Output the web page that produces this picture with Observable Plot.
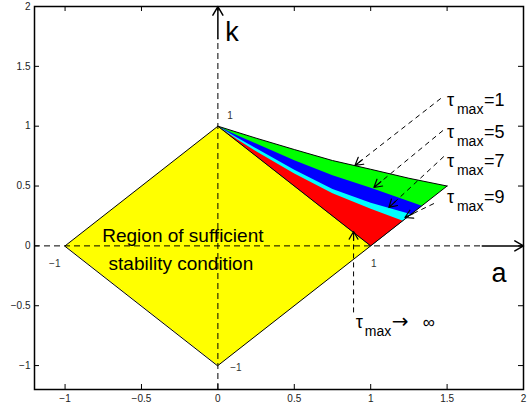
<!DOCTYPE html>
<html><head><meta charset="utf-8">
<script src="https://cdn.jsdelivr.net/npm/d3@7"></script>
<script src="https://cdn.jsdelivr.net/npm/@observablehq/plot@0.6"></script>
<style>body{margin:0;background:#fff} #chart svg{display:block}</style>
</head><body><div id="chart"></div>
<script>
// ---- data ----
const xTicks = [-1, -0.5, 0, 0.5, 1, 1.5, 2];
const yTicks = [-1, -0.5, 0, 0.5, 1, 1.5, 2];
const diamondA = [-1, 0, 1, 0];
const diamondK = [0, 1, 0, -1];
const tau1A = [0, 0.125, 0.25, 0.5, 0.75, 1.0, 1.25, 1.5];
const tau1K = [1, 0.95, 0.90, 0.805, 0.713, 0.64, 0.565, 0.5];
const tau5A = [0, 0.125, 0.25, 0.5, 0.75, 1.0, 1.2, 1.335];
const tau5K = [1, 0.925, 0.855, 0.715, 0.59, 0.485, 0.395, 0.335];
const tau7A = [0, 0.125, 0.25, 0.5, 0.75, 1.0, 1.265];
const tau7K = [1, 0.905, 0.815, 0.635, 0.475, 0.36, 0.265];
const tau9A = [0, 0.125, 0.25, 0.5, 0.75, 1.0, 1.21];
const tau9K = [1, 0.89, 0.79, 0.605, 0.44, 0.31, 0.21];
const edgeA = [1, 1.5];
const edgeK = [0, 0.5];
const regionColors = ["#00ff00", "#0000ff", "#00ffff", "#ff0000"];
const tauValues = ["1", "5", "7", "9"];
const tauLabelA = [1.499, 1.499, 1.499, 1.499];
const tauLabelK = [1.215, 0.947, 0.705, 0.404];
const infLabelA = 0.903, infLabelK = -0.642;
const arrowFromA = [1.459, 1.473, 1.479, 1.414, 0.888];
const arrowFromK = [1.232, 0.964, 0.747, 0.354, -0.556];
const arrowToA = [0.897, 1.021, 1.119, 1.224, 0.888];
const arrowToK = [0.672, 0.488, 0.321, 0.237, 0.12];
const axisArrowStart = 1.73;
const regionText = ["Region of sufficient", "stability condition"];
const regionTextA = [-0.229, -0.242];
const regionTextK = [0.087, -0.147];
const vertexLabels = ["1", "1", "\u22121", "\u22121"];
const vertexLabelA = [0.079, 1.021, -1.067, 0.118];
const vertexLabelK = [1.089, -0.147, -0.147, -1.016];
const axisNames = ["k", "a"];
const axisNameA = [0.092, 1.839];
const axisNameK = [1.783, -0.231];

// ---- layout ----
const W = 531, H = 407, mL = 34, mR = 8, mT = 6, mB = 18;
const xDom = [-1.2, 2], yDom = [-1.2, 2];
const kx = (W - mL - mR) / (xDom[1] - xDom[0]);
const ky = (H - mT - mB) / (yDom[1] - yDom[0]);
const plotW = W - mL - mR, plotH = H - mT - mB, tick = 5;
const fmt = d => (d < 0 ? "\u2212" : "") + Math.abs(d);

const pts = (A, K) => A.map((a, i) => ({a, k: K[i]}));
const diamond = pts(diamondA, diamondK);
const corner = {a: diamondA[2], k: diamondK[2]};
const curves = [pts(tau1A, tau1K), pts(tau5A, tau5K), pts(tau7A, tau7K), pts(tau9A, tau9K)];
const tauLabels = tauValues.map((v, i) => ({v, a: tauLabelA[i], k: tauLabelK[i]}));
const arrows = arrowFromA.map((a, i) => ({a1: a, k1: arrowFromK[i], a2: arrowToA[i], k2: arrowToK[i]}));

const marks = [];
marks.push(Plot.line(diamond, {x: "a", y: "k", fill: "#ffff00", stroke: "none", curve: "linear-closed"}));
curves.forEach((c, i) => {
  marks.push(Plot.line([...c, corner], {x: "a", y: "k", fill: regionColors[i], stroke: "none", curve: "linear-closed"}));
});
marks.push(Plot.line(diamond, {x: "a", y: "k", stroke: "black", strokeWidth: 1, curve: "linear-closed"}));
marks.push(Plot.line(curves[0], {x: "a", y: "k", stroke: "black", strokeWidth: 1}));
marks.push(Plot.line(pts(edgeA, edgeK), {x: "a", y: "k", stroke: "black", strokeWidth: 1}));
// dashed coordinate axes with arrows
marks.push(Plot.ruleY([0], {x1: xDom[0], x2: axisArrowStart, stroke: "black", strokeDasharray: "6,4"}));
marks.push(Plot.ruleX([0], {y1: yDom[0], y2: axisArrowStart, stroke: "black", strokeDasharray: "6,4"}));
marks.push(Plot.arrow([0], {x1: axisArrowStart, x2: xDom[1], y1: 0, y2: 0, stroke: "black", headLength: 10}));
marks.push(Plot.arrow([0], {x1: 0, x2: 0, y1: axisArrowStart, y2: yDom[1], stroke: "black", headLength: 10}));
// annotation arrows: dashed shaft + solid head
marks.push(Plot.link(arrows, {x1: "a1", y1: "k1", x2: "a2", y2: "k2", stroke: "black", strokeDasharray: "5,4"}));
arrows.forEach(d => {
  const len = Math.hypot((d.a2 - d.a1) * kx, (d.k2 - d.k1) * ky);
  marks.push(Plot.arrow([d], {x1: "a1", y1: "k1", x2: "a2", y2: "k2", stroke: "black", strokeWidth: 1.2, headLength: 11, insetStart: Math.max(0, len - 9)}));
});
// tau labels
marks.push(Plot.text(tauLabels, {x: "a", y: "k", text: () => "\u03c4", textAnchor: "start", fontSize: 18}));
marks.push(Plot.text(tauLabels, {x: "a", y: "k", text: () => "max", textAnchor: "start", fontSize: 14, dx: 10, dy: 9}));
marks.push(Plot.text(tauLabels, {x: "a", y: "k", text: d => "=" + d.v, textAnchor: "start", fontSize: 18, dx: 37}));
marks.push(Plot.text([0], {x: infLabelA, y: infLabelK, text: () => "\u03c4", textAnchor: "start", fontSize: 18}));
marks.push(Plot.text([0], {x: infLabelA, y: infLabelK, text: () => "max", textAnchor: "start", fontSize: 14, dx: 9, dy: 9}));
marks.push(Plot.text([0], {x: infLabelA, y: infLabelK, text: () => "\u2192", textAnchor: "start", fontSize: 20, fontFamily: "DejaVu Sans", dx: 36, dy: -1}));
marks.push(Plot.text([0], {x: infLabelA, y: infLabelK, text: () => "\u221e", textAnchor: "start", fontSize: 17, dx: 67}));
// other texts
marks.push(Plot.text(regionText, {x: (d, i) => regionTextA[i], y: (d, i) => regionTextK[i], text: d => d, fontSize: 19}));
marks.push(Plot.text(vertexLabels, {x: (d, i) => vertexLabelA[i], y: (d, i) => vertexLabelK[i], text: d => d, fontSize: 10, fill: "#333"}));
marks.push(Plot.text(axisNames, {x: (d, i) => axisNameA[i], y: (d, i) => axisNameK[i], text: d => d, fontSize: 27}));
// frame, inward ticks, tick labels
marks.push(Plot.tickX(xTicks, {x: d => d, insetTop: plotH - tick, stroke: "black"}));
marks.push(Plot.tickX(xTicks, {x: d => d, insetBottom: plotH - tick, stroke: "black"}));
marks.push(Plot.tickY(yTicks, {y: d => d, insetRight: plotW - tick, stroke: "black"}));
marks.push(Plot.tickY(yTicks, {y: d => d, insetLeft: plotW - tick, stroke: "black"}));
marks.push(Plot.frame({stroke: "black", strokeWidth: 1.5}));
marks.push(Plot.axisX(xTicks, {tickSize: 0, tickPadding: 5, fontSize: 10, fill: "#222", tickFormat: fmt}));
marks.push(Plot.axisY(yTicks, {tickSize: 0, tickPadding: 4, fontSize: 10, fill: "#222", tickFormat: fmt}));

const chart = Plot.plot({
  width: W, height: H,
  marginLeft: mL, marginRight: mR, marginTop: mT, marginBottom: mB,
  x: {domain: xDom, label: null},
  y: {domain: yDom, label: null},
  style: {fontFamily: "'Liberation Sans', Arial, sans-serif", background: "white"},
  marks
});
document.getElementById("chart").appendChild(chart);
</script>
</body></html>
